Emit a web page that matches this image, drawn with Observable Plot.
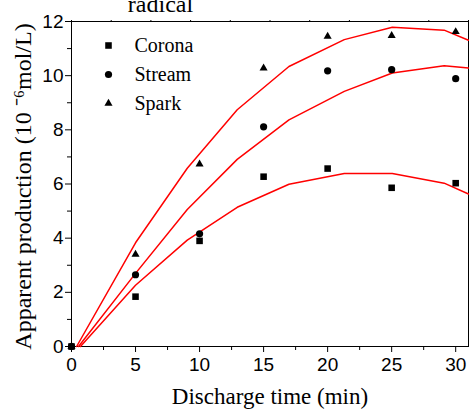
<!DOCTYPE html>
<html>
<head>
<meta charset="utf-8">
<script src="https://cdn.jsdelivr.net/npm/d3@7"></script>
<script src="https://cdn.jsdelivr.net/npm/@observablehq/plot@0.6"></script>
<style>
  html, body { margin: 0; padding: 0; background: #fff; }
</style>
</head>
<body>
<div id="chart"></div>
<script>
// ---- data ----
const time = [0, 5, 10, 15, 20, 25, 30];
const corona = [0, 1.84, 3.90, 6.27, 6.57, 5.86, 6.03];
const stream = [0, 2.65, 4.16, 8.11, 10.18, 10.22, 9.89];
const spark  = [0, 3.40, 6.73, 10.28, 11.45, 11.48, 11.62];

// fitted curves (red lines)
const coronaFitX = [0.7, 5, 9.04, 12.94, 16.98, 21.3, 25.05, 29.1, 31];
const coronaFitY = [0, 2.26, 3.93, 5.14, 5.99, 6.39, 6.39, 6.03, 5.63];
const streamFitX = [0.55, 5, 9.04, 12.94, 16.98, 21.3, 25.05, 29.1, 31];
const streamFitY = [0, 2.7, 5.06, 6.91, 8.37, 9.42, 10.1, 10.37, 10.28];
const sparkFitX  = [0.4, 5, 9.04, 12.94, 16.98, 21.3, 25.05, 29.1, 31];
const sparkFitY  = [0, 3.83, 6.58, 8.74, 10.34, 11.33, 11.79, 11.68, 11.31];

const seriesNames = ["Corona", "Stream", "Spark"];
const seriesSymbols = ["square", "circle", "triangle"];
const seriesR = [3.7, 3.6, 3.0];

const xMajor = [0, 5, 10, 15, 20, 25, 30];
const xMinor = [2.5, 7.5, 12.5, 17.5, 22.5, 27.5];
const yMajor = [0, 2, 4, 6, 8, 10, 12];
const yMinor = [1, 3, 5, 7, 9, 11];
const xDomain = [0, 31];
const yDomain = [0, 12];

const titleText = "radical";
const xLabel = "Discharge time (min)";
const yLabel = "Apparent production (10 \u207B\u2076mol/L)";

// ---- build tables ----
const pts = [corona, stream, spark].map(arr => time.map((t, i) => ({t, v: arr[i]})));
const fits = [[coronaFitX, coronaFitY], [streamFitX, streamFitY], [sparkFitX, sparkFitY]]
  .map(([xs, ys]) => xs.map((t, i) => ({t, v: ys[i]})));
const topTicks = d3.range(0, 11).map(k => xDomain[0] + k * (xDomain[1] - xDomain[0]) / 10);

const serif = "'Liberation Serif', 'Times New Roman', serif";
const sans = "'Liberation Sans', Arial, sans-serif";
const blank = () => "";

const marks = [
  Plot.frame({stroke: "black", strokeWidth: 1}),
  Plot.axisX({ticks: xMajor, tickSize: 6, tickPadding: 5, label: null, fontSize: 19, fontFamily: sans}),
  Plot.axisX({ticks: xMinor, tickSize: 4, tickFormat: blank, label: null}),
  Plot.axisX({anchor: "top", ticks: topTicks, tickSize: 2, tickFormat: blank, label: null}),
  Plot.axisY({ticks: yMajor, tickSize: 6, tickPadding: 2, label: null, fontSize: 19, fontFamily: sans}),
  Plot.axisY({ticks: yMinor, tickSize: 4, tickFormat: blank, label: null})
];

fits.forEach(f => marks.push(Plot.line(f, {x: "t", y: "v", stroke: "#ff0000", strokeWidth: 1.5})));
pts.forEach((p, i) => marks.push(Plot.dot(p, {x: "t", y: "v", symbol: seriesSymbols[i], r: seriesR[i], fill: "black", stroke: "none"})));

// legend
seriesNames.forEach((name, i) => {
  marks.push(Plot.dot([name], {frameAnchor: "top-left", dx: 37, dy: 24 + i * 29, symbol: seriesSymbols[i], r: seriesR[i], fill: "black", stroke: "none"}));
  marks.push(Plot.text([name], {frameAnchor: "top-left", dx: 63, dy: 24 + i * 29, textAnchor: "start", lineAnchor: "middle", fontFamily: serif, fontSize: 20, fill: "black"}));
});

// labels
marks.push(Plot.text([xLabel], {frameAnchor: "bottom", dy: 57, lineAnchor: "bottom", textAnchor: "middle", fontFamily: serif, fontSize: 23, fill: "black"}));
marks.push(Plot.text([yLabel], {frameAnchor: "left", rotate: -90, dx: -41, dy: 2.5, textAnchor: "middle", lineAnchor: "bottom", fontFamily: serif, fontSize: 24, fill: "black"}));
marks.push(Plot.text([titleText], {frameAnchor: "top", dx: -109.5, dy: -10, textAnchor: "middle", lineAnchor: "bottom", fontFamily: serif, fontSize: 24, fill: "black"}));

const chart = Plot.plot({
  width: 469,
  height: 409,
  marginLeft: 71,
  marginRight: 1,
  marginTop: 21,
  marginBottom: 63,
  x: {domain: xDomain},
  y: {domain: yDomain},
  style: {fontFamily: sans, fontSize: "19px", color: "black", background: "white", overflow: "visible"},
  marks
});
document.getElementById("chart").appendChild(chart);
</script>
</body>
</html>
